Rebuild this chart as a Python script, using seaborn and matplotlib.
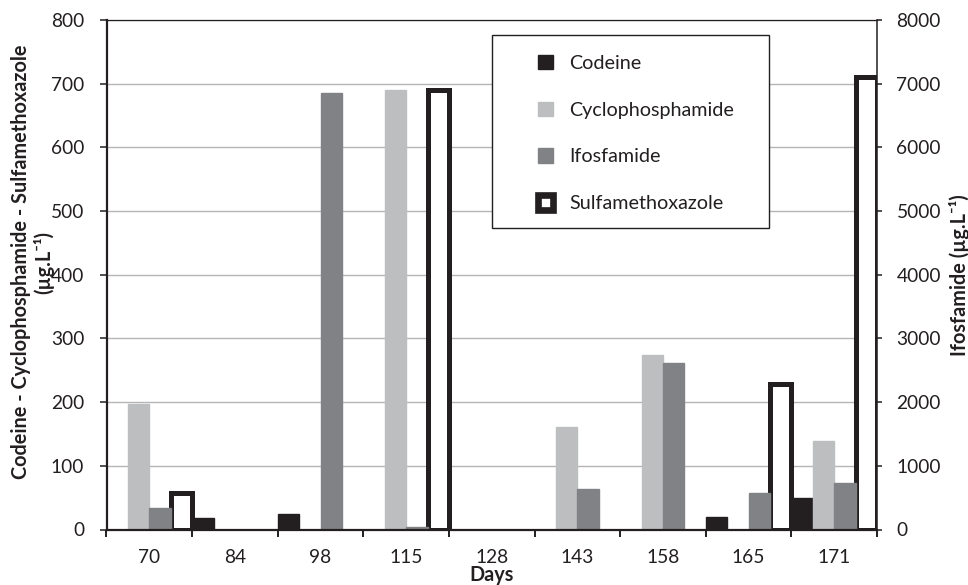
import matplotlib
matplotlib.use("Agg")
import matplotlib.pyplot as plt
import numpy as np
import pandas as pd
import seaborn as sns
from matplotlib.patches import Patch, Rectangle
from matplotlib.ticker import FixedLocator, MultipleLocator

# ---------------- data ----------------
days = ["70", "84", "98", "115", "128", "143", "158", "165", "171"]
codeine = [0, 18, 24, 0, 0, 0, 0, 20, 49]
cyclophosphamide = [197, 0, 0, 690, 0, 161, 274, 0, 139]
ifosfamide = [340, 0, 6850, 40, 0, 640, 2610, 570, 730]          # right axis
sulfamethoxazole = [58, 0, 0, 690, 0, 0, 0, 228, 710]
series = ["Codeine", "Cyclophosphamide", "Ifosfamide", "Sulfamethoxazole"]
colors = {"Codeine": "#231f20", "Cyclophosphamide": "#bcbec0",
          "Ifosfamide": "#808285", "Sulfamethoxazole": "#ffffff"}
dark = "#231f20"

sns.set_theme(style="white")
plt.rcParams["font.family"] = ["Lato", "DejaVu Sans"]
FS = 13.8
FSL = 14.3

values = {"Codeine": codeine, "Cyclophosphamide": cyclophosphamide,
          "Ifosfamide": ifosfamide, "Sulfamethoxazole": sulfamethoxazole}
long = pd.DataFrame({
    "Day": days * len(series),
    "Compound": [s for s in series for _ in days],
    "Value": [v for s in series for v in values[s]],
})
long = long[long["Value"] > 0]
prim = long[long["Compound"] != "Ifosfamide"]
sec = long[long["Compound"] == "Ifosfamide"]

W, H = 968, 585
fig = plt.figure(figsize=(W / 100, H / 100), dpi=100)
L, R, T, B = 106.5, 877, 20, 529.5
ax = fig.add_axes([L / W, 1 - B / H, (R - L) / W, (B - T) / H])
ax2 = ax.twinx()

sns.barplot(data=prim, x="Day", y="Value", hue="Compound", order=days,
            hue_order=series, palette=colors, width=1.0, errorbar=None,
            saturation=1, dodge=True, ax=ax, legend=False)
sns.barplot(data=sec, x="Day", y="Value", hue="Compound", order=days,
            hue_order=series, palette=colors, width=1.0, errorbar=None,
            saturation=1, dodge=True, ax=ax2, legend=False)

for a in (ax, ax2):
    for p in a.patches:
        fc = p.get_facecolor()
        if fc[0] > 0.99 and fc[1] > 0.99 and fc[2] > 0.99:
            p.set_edgecolor(dark)
            p.set_linewidth(3.6)
            p.set_zorder(3)
        else:
            p.set_edgecolor(fc)
            p.set_linewidth(1.0)
            p.set_zorder(2)

# axes limits / ticks
ax.set_xlim(-0.5, len(days) - 0.5)
ax.set_ylim(0, 800)
ax2.set_ylim(0, 8000)
ax.yaxis.set_major_locator(MultipleLocator(100))
ax2.yaxis.set_major_locator(MultipleLocator(1000))
ax.set_xticks(range(len(days)))
ax.set_xticklabels(days)
ax.xaxis.set_minor_locator(FixedLocator(np.arange(-0.5, len(days), 1.0)))
ax.tick_params(axis="x", which="major", length=0, pad=14, labelsize=FS, colors=dark)
ax.tick_params(axis="x", which="minor", bottom=True, length=5, width=1.4,
               direction="out", color=dark)
ax.tick_params(axis="y", which="major", left=True, length=5, width=1.1,
               direction="out", pad=11, labelsize=FS, colors=dark)
ax2.tick_params(axis="y", which="major", right=True, length=3.5, width=1.1,
                direction="out", pad=10.5, labelsize=FS, colors=dark)

ax.set_axisbelow(True)
ax.yaxis.grid(True, color="#b5b5b5", linewidth=1.0)
ax.xaxis.grid(False)
ax2.grid(False)

ax.spines["left"].set_color(dark)
ax.spines["left"].set_linewidth(1.6)
ax.spines["bottom"].set_visible(False)
ax.spines["top"].set_color(dark)
ax.spines["top"].set_linewidth(0.9)
ax.spines["right"].set_visible(False)
for s in ["left", "top"]:
    ax2.spines[s].set_visible(False)
ax2.spines["bottom"].set_visible(True)
ax2.spines["bottom"].set_color(dark)
ax2.spines["bottom"].set_linewidth(1.6)
ax2.spines["bottom"].set_zorder(10)
ax2.spines["right"].set_color(dark)
ax2.spines["right"].set_linewidth(1.1)

# labels
ax.set_ylabel("Codeine - Cyclophosphamide - Sulfamethoxazole\n(µg.L⁻¹)",
              fontsize=FSL, fontweight="bold", color=dark, linespacing=1.1)
ax.yaxis.set_label_coords(-0.068, 0.525)
ax2.set_ylabel("Ifosfamide (µg.L⁻¹)", fontsize=FSL, fontweight="bold", color=dark)
ax2.yaxis.set_label_coords(1.093, 0.5)
ax.set_xlabel("Days", fontsize=FSL, fontweight="bold", color=dark)
ax.xaxis.set_label_coords(0.5, -0.070)

# legend with custom frame
fx0 = (492 - L) / (R - L)
fx1 = (769 - L) / (R - L)
fy1 = (B - 35) / (B - T)
fy0 = (B - 228) / (B - T)
frame = Rectangle((fx0, fy0), fx1 - fx0, fy1 - fy0, transform=ax2.transAxes,
                  facecolor="white", edgecolor=dark, linewidth=1.0, zorder=8)
ax2.add_patch(frame)
handles = [Patch(facecolor=colors["Codeine"], edgecolor=colors["Codeine"]),
           Patch(facecolor=colors["Cyclophosphamide"], edgecolor=colors["Cyclophosphamide"]),
           Patch(facecolor=colors["Ifosfamide"], edgecolor=colors["Ifosfamide"]),
           Patch(facecolor="white", edgecolor=dark, linewidth=4.8)]
leg = ax2.legend(handles, series, loc="upper left",
                 bbox_to_anchor=((538 - L) / (R - L), (B - 55) / (B - T)),
                 frameon=False, borderpad=0, borderaxespad=0,
                 handlelength=0.75, handleheight=0.75, handletextpad=0.85,
                 labelspacing=1.5, fontsize=14.2, labelcolor=dark)
leg.set_zorder(9)

fig.savefig("out.png", dpi=100)
